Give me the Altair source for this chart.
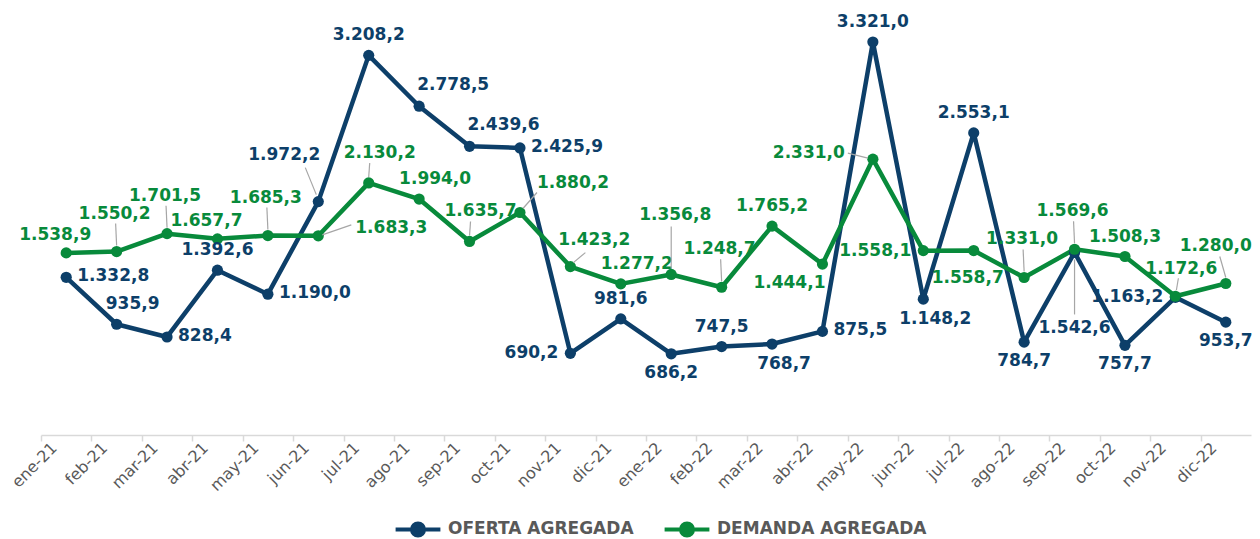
import altair as alt
import pandas as pd

# ---------------- data ----------------
meses = ["ene-21", "feb-21", "mar-21", "abr-21", "may-21", "jun-21",
         "jul-21", "ago-21", "sep-21", "oct-21", "nov-21", "dic-21",
         "ene-22", "feb-22", "mar-22", "abr-22", "may-22", "jun-22",
         "jul-22", "ago-22", "sep-22", "oct-22", "nov-22", "dic-22"]

oferta = [1332.8, 935.9, 828.4, 1392.6, 1190.0, 1972.2,
          3208.2, 2778.5, 2439.6, 2425.9, 690.2, 981.6,
          686.2, 747.5, 768.7, 875.5, 3321.0, 1148.2,
          2553.1, 784.7, 1542.6, 757.7, 1163.2, 953.7]

demanda = [1538.9, 1550.2, 1701.5, 1657.7, 1685.3, 1683.3,
           2130.2, 1994.0, 1635.7, 1880.2, 1423.2, 1277.2,
           1356.8, 1248.7, 1765.2, 1444.1, 2331.0, 1558.1,
           1558.7, 1331.0, 1569.6, 1508.3, 1172.6, 1280.0]

series = ["OFERTA AGREGADA", "DEMANDA AGREGADA"]

# label placement codes (style choice per point)
oferta_pos = ["E", "NR", "E", "N", "E", "NW2", "N", "NE", "NE", "E", "W", "N",
              "S", "N", "SR", "E", "N", "SR", "N", "S", "S2", "S", "W", "S"]
demanda_pos = ["NL", "N2", "N2", "NL", "N2", "E2", "N2R", "NR", "N2R", "NE2", "NR2", "NR",
               "N3", "N2", "N", "SW", "W2", "W", "SL", "N2", "N2", "N", "N2S", "N2L"]

# ---------------- styles ----------------
NAVY = "#0D3F69"
GREEN = "#088A3B"
GRAY_TXT = "#595959"
LEADER = "#A6A6A6"
FONT = "DejaVu Sans"

# code -> (align, dx, dy, leader offsets (x1, y1, x2, y2) or None)
PLACEMENTS = {
    "N": ("center", 0, -20, None),
    "NL": ("center", -11, -18, None),
    "NR": ("center", 16, -20, None),
    "NE": ("left", -2, -21, None),
    "E": ("left", 11, -1, None),
    "W": ("right", -12, 0, None),
    "S": ("center", 0, 19, None),
    "SR": ("center", 12, 20, None),
    "SL": ("center", -6, 27, None),
    "SW": ("right", 3, 19, None),
    "NW2": ("right", 2, -47, (-2, -7, -13, -34)),
    "S2": ("center", 0, 76, (0, 7, 0, 62)),
    "N2": ("center", -2, -38, (0, -6, -1, -28)),
    "N2S": ("center", 6, -27, (1, -6, 3, -18)),
    "N2L": ("right", 26, -38, (0, -6, -6, -27)),
    "N2R": ("center", 11, -30, (0, -6, 1, -20)),
    "N3": ("center", 4, -59, (0, -6, 0, -48)),
    "E2": ("left", 37, -8, (4, -1, 33, -11)),
    "NE2": ("left", 17, -30, (3, -4, 17, -20)),
    "NR2": ("center", 24, -27, (3, -4, 15, -14)),
    "W2": ("right", -28, -6, (-5, -1, -25, -6)),
}

rows = []
for i, m in enumerate(meses):
    rows.append({"mes": m, "serie": series[0], "valor": oferta[i], "pos": oferta_pos[i]})
for i, m in enumerate(meses):
    rows.append({"mes": m, "serie": series[1], "valor": demanda[i], "pos": demanda_pos[i]})
df = pd.DataFrame(rows)

W = 1210
H = 426
step = W / len(meses)

x_enc = alt.X(
    "mes:N", sort=meses, title=None,
    scale=alt.Scale(type="point", padding=0.5),
    axis=alt.Axis(
        labelAngle=-45, labelFont=FONT, labelFontSize=16, labelColor=GRAY_TXT,
        labelAlign="right", labelBaseline="middle",
        tickOffset=-step / 2, labelOffset=13, labelPadding=4,
        domainColor="#D9D9D9", domainWidth=1.5, tickColor="#D9D9D9",
        tickWidth=1.5, tickSize=6, grid=False,
    ),
)
y_enc = alt.Y("valor:Q", title=None, axis=None,
              scale=alt.Scale(domain=[0, 3600], nice=False, zero=True))

legend_symbol = ("M-1.6,0L1.6,0M0.43,0A0.43,0.43,0,1,1,-0.43,0"
                 "A0.43,0.43,0,1,1,0.43,0Z")
color_enc = alt.Color(
    "serie:N", sort=series,
    scale=alt.Scale(domain=series, range=[NAVY, GREEN]),
    legend=alt.Legend(
        title=None, orient="none", direction="horizontal", columns=2,
        legendX=352 + 9, legendY=504,
        symbolType=legend_symbol, symbolSize=784, symbolStrokeWidth=4,
        labelFont=FONT, labelFontSize=17, labelFontWeight="bold",
        labelColor=GRAY_TXT, labelOffset=14, columnPadding=22, labelLimit=400,
    ),
)

base = alt.Chart(df).encode(x=x_enc, y=y_enc, color=color_enc)

lines = base.mark_line(strokeWidth=4.5, strokeCap="round", strokeJoin="round")
points = base.mark_circle(size=125, opacity=1)

layers = [lines, points]
for code, (align, dx, dy, leader) in PLACEMENTS.items():
    sub = base.transform_filter(alt.datum.pos == code)
    if leader is not None:
        x1, y1, x2, y2 = leader
        layers.append(
            sub.mark_rule(color=LEADER, strokeWidth=1.2,
                          xOffset=x1, yOffset=y1, x2Offset=x2, y2Offset=y2)
            .encode(x2=alt.X2("mes:N"), y2=alt.Y2("valor:Q"), color=alt.value(LEADER))
        )
    layers.append(
        sub.mark_text(align=align, baseline="middle", dx=dx, dy=dy,
                      font=FONT, fontSize=17, fontWeight="bold")
        .encode(text=alt.Text("valor:Q", format=",.1f"))
    )

chart = (
    alt.layer(*layers)
    .properties(
        width=W, height=H,
        autosize=alt.AutoSizeParams(type="none"),
        padding={"left": 33, "top": 1, "right": 1, "bottom": 104},
    )
    .configure(locale={"number": {"decimal": ",", "thousands": ".",
                                  "grouping": [3], "currency": ["", ""]}})
    .configure_view(stroke=None)
)

chart.save("out.html", embed_options={"renderer": "svg", "actions": False})
